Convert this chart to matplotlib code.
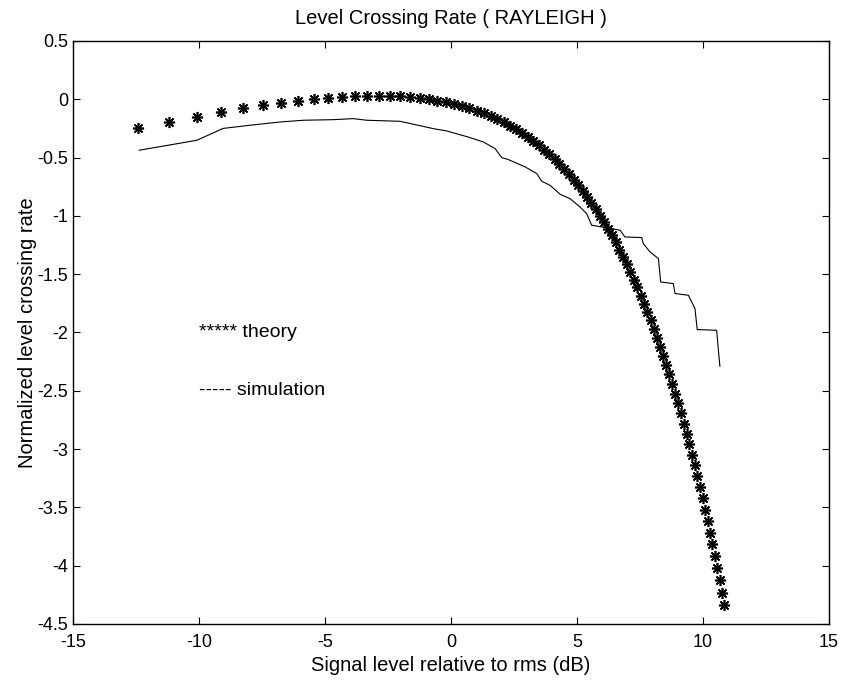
import numpy as np
import matplotlib
matplotlib.use('Agg')
import matplotlib.pyplot as plt

# theory points (signal level in dB, log10 of normalized crossing rate)
theory_db = [-12.43, -11.19, -10.09, -9.13, -8.25, -7.46, -6.74, -6.07, -5.45, -4.87,
             -4.32, -3.81, -3.33, -2.87, -2.43, -2.02, -1.62, -1.25, -0.88, -0.54,
             -0.20, 0.12, 0.43, 0.73, 1.02, 1.30, 1.57, 1.84, 2.09, 2.34,
             2.58, 2.82, 3.04, 3.27, 3.48, 3.70, 3.90, 4.11, 4.30, 4.50,
             4.69, 4.87, 5.05, 5.23, 5.40, 5.57, 5.74, 5.90, 6.06, 6.22,
             6.38, 6.53, 6.68, 6.83, 6.97, 7.11, 7.26, 7.39, 7.53, 7.66,
             7.79, 7.92, 8.05, 8.18, 8.30, 8.42, 8.54, 8.66, 8.78, 8.90,
             9.01, 9.12, 9.24, 9.35, 9.45, 9.56, 9.67, 9.77, 9.88, 9.98,
             10.08, 10.18, 10.28, 10.37, 10.47, 10.57, 10.66, 10.75, 10.85]
theory_lcr = [-0.247, -0.193, -0.148, -0.110, -0.079, -0.052, -0.030, -0.012, 0.003, 0.014,
              0.023, 0.028, 0.031, 0.031, 0.029, 0.025, 0.019, 0.011, 0.001, -0.012,
              -0.026, -0.041, -0.059, -0.078, -0.099, -0.122, -0.146, -0.172, -0.199, -0.228,
              -0.259, -0.291, -0.324, -0.359, -0.396, -0.433, -0.473, -0.513, -0.556, -0.599,
              -0.644, -0.690, -0.738, -0.787, -0.838, -0.889, -0.942, -0.997, -1.053, -1.110,
              -1.168, -1.228, -1.289, -1.351, -1.415, -1.480, -1.547, -1.614, -1.683, -1.753,
              -1.825, -1.897, -1.971, -2.047, -2.123, -2.201, -2.280, -2.360, -2.442, -2.525,
              -2.609, -2.694, -2.781, -2.869, -2.958, -3.049, -3.140, -3.233, -3.327, -3.423,
              -3.519, -3.617, -3.716, -3.817, -3.918, -4.021, -4.125, -4.230, -4.337]

# simulated curve
sim_db = [-12.37, -10.09, -9.04, -7.98, -6.79, -5.86, -4.67, -3.87, -3.35, -2.02,
          -0.70, -0.17, 0.70, 1.28, 1.75, 2.01, 2.27, 2.94, 3.40, 3.60,
          3.93, 4.33, 4.72, 5.12, 5.38, 5.58, 6.71, 6.90, 7.57, 7.63,
          7.90, 8.23, 8.32, 8.82, 8.89, 9.42, 9.68, 9.77, 10.54, 10.61, 10.67]
sim_lcr = [-0.437, -0.352, -0.250, -0.223, -0.195, -0.180, -0.175, -0.166, -0.180, -0.189,
           -0.252, -0.272, -0.325, -0.366, -0.423, -0.500, -0.517, -0.580, -0.637, -0.703,
           -0.738, -0.815, -0.852, -0.924, -0.980, -1.080, -1.123, -1.181, -1.186, -1.238,
           -1.310, -1.366, -1.567, -1.581, -1.666, -1.681, -1.795, -1.975, -1.981, -2.153, -2.290]

x_ticks = np.arange(-15, 16, 5)
y_ticks = np.arange(-4.5, 0.51, 0.5)

plt.rcParams['font.family'] = ['Liberation Sans', 'DejaVu Sans']
plt.rcParams['axes.unicode_minus'] = False

fig = plt.figure(figsize=(8.45, 6.86), dpi=100)
ax = fig.add_axes([0.0864, 0.0904, 0.8947, 0.8499])

ax.plot(theory_db, theory_lcr, linestyle='none', marker=(8, 2, 0),
        markersize=8, markeredgewidth=1.2, color='black')
ax.plot(sim_db, sim_lcr, color='black', linewidth=0.8)

ax.text(-10, -2, '***** theory', fontsize=14, va='center', ha='left')
ax.text(-10, -2.5, '----- simulation', fontsize=14, va='center', ha='left')

ax.set_xlim(-15, 15)
ax.set_ylim(-4.5, 0.5)
ax.set_xticks(x_ticks)
ax.set_yticks(y_ticks)
ax.set_yticklabels(['%g' % v for v in y_ticks])
ax.tick_params(direction='in', top=True, right=True, labelsize=13, length=5, width=0.8)
ax.tick_params(axis='x', pad=7)
for s in ax.spines.values():
    s.set_linewidth(1.0)

ax.set_title('Level Crossing Rate ( RAYLEIGH )', fontsize=14.5, pad=12)
ax.set_xlabel('Signal level relative to rms (dB)', fontsize=14.5, labelpad=4)
ax.set_ylabel('Normalized level crossing rate', fontsize=14.5, labelpad=0)

fig.savefig('out.png', dpi=100)
